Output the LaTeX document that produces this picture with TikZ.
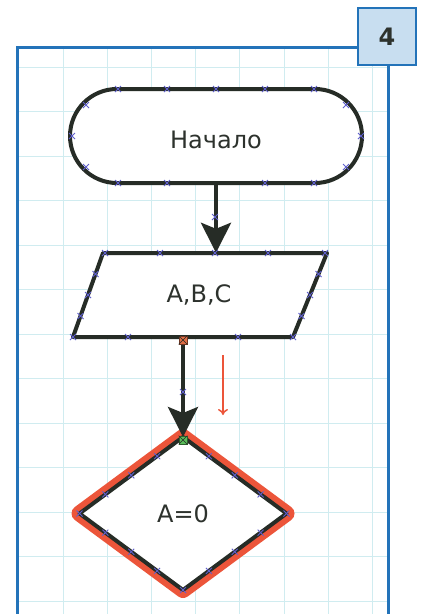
\documentclass[tikz,border=0pt]{standalone}
\usepackage{fontspec}
\setmainfont{DejaVu Sans}
\usetikzlibrary{arrows.meta,shapes.geometric,calc}
\definecolor{gridc}{RGB}{208,236,240}
\definecolor{framec}{RGB}{35,115,185}
\definecolor{boxc}{RGB}{200,222,240}
\definecolor{shapec}{RGB}{38,44,38}
\definecolor{textc}{RGB}{45,50,45}
\definecolor{markc}{RGB}{95,95,205}
\definecolor{redc}{RGB}{236,85,58}
\definecolor{greenc}{RGB}{90,190,90}
\definecolor{orangec}{RGB}{225,110,70}
\begin{document}
\begin{tikzpicture}[x=1pt,y=-1pt,
  gridline/.style={draw=gridc,line width=0.9},
  frameline/.style={draw=framec,line width=3},
  outline/.style={draw=shapec,line width=4,line join=round},
  label/.style={text=textc,font=\fontsize{24}{28}\selectfont},
  conn/.style={draw=shapec,line width=4,-{Stealth[length=30pt,width=30pt,inset=6pt]}},
  hint/.style={draw=redc,line width=1.5,-{To[length=6pt,width=10pt]}},
  pin/.style={minimum size=8,inner sep=0,line width=0.6},
  mk/.pic={\draw[markc,line width=0.8] (-3,-3)--(3,3) (-3,3)--(3,-3);}
]
\useasboundingbox (0,0) rectangle (427,614);
\fill[white] (0,0) rectangle (427,614);
% grid
\begin{scope}
  \clip (17,47) rectangle (388,614);
  \foreach \x in {63,107.2,151.4,195.6,239.8,284,328.2,372.4}
    \draw[gridline] (\x,47) -- (\x,614);
  \foreach \y in {67,111.5,156,200.5,245,289.5,334,378.5,423,467.5,512,556.5,601}
    \draw[gridline] (17,\y) -- (388,\y);
\end{scope}
% frame
\draw[frameline] (17,614) -- (17,47) -- (358,47);
\draw[frameline] (388,65) -- (388,614);
\node[fill=boxc,draw=framec,line width=2,minimum width=58,minimum height=57,
      text=textc,font=\bfseries\fontsize{24}{28}\selectfont] (num) at (387,36.5) {4};
% start terminal
\node[outline,fill=white,rounded corners=47,minimum width=292,minimum height=94,label,
      text height=25,text depth=0]
  (start) at (216,136) {Начало};
% input parallelogram
\draw[outline,fill=white] (103,253) -- (327,253) -- (293,337) -- (73,337) -- cycle;
\node[minimum width=220,minimum height=84,label] (io) at (199,295) {A,B,C};
% decision
\node[diamond,draw=redc,line width=16,line join=round,minimum width=207,minimum height=153,
      aspect=1.353,inner sep=0,outer sep=0] (decred) at (183,513.5) {};
\node[diamond,outline,fill=white,minimum width=207,minimum height=153,
      aspect=1.353,inner sep=0,outer sep=0,label] (dec) at (183,513.5) {A=0};
% connectors
\draw[conn] (start.south) -- (start.south |- io.north);
\coordinate (ioout) at (183,337);
\draw[conn] (ioout) -- (dec.north);
% hint arrow
\coordinate (hinta) at (223,355);
\coordinate (hintb) at (223,415);
\draw[hint] (hinta) -- (hintb);
% connection pins
\node[pin,draw=orangec!50!black,fill=orangec] (pinout) at (183,340) {};
\draw[shapec,line width=0.6] (pinout.north west) -- (pinout.south east) (pinout.north east) -- (pinout.south west);
\node[pin,draw=greenc!50!black,fill=greenc] (pinin) at (183,440) {};
\draw[shapec,line width=0.6] (pinin.north west) -- (pinin.south east) (pinin.north east) -- (pinin.south west);
% markers: terminal
\foreach \x in {118,167,265,314} {\pic at (\x,89) {mk}; \pic at (\x,183) {mk};}
\pic at (216,89) {mk};
\pic at (72,136) {mk}; \pic at (361,136) {mk};
\pic at (86,105) {mk}; \pic at (86,167) {mk}; \pic at (346,105) {mk}; \pic at (346,167) {mk};
% markers: connector 1
\pic at (215,217) {mk};
% markers: parallelogram
\foreach \x in {105,160,215,268,325} \pic at (\x,253) {mk};
\foreach \x in {73,128,238,293} \pic at (\x,337) {mk};
\foreach \t in {0.25,0.5,0.75} {
  \pic at ($(103,253)!\t!(73,337)$) {mk};
  \pic at ($(327,253)!\t!(293,337)$) {mk};
}
% markers: connector 2
\pic at (183,392) {mk};
% markers: diamond
\foreach \t in {0.25,0.5,0.75} {
  \pic at ($(dec.north)!\t!(dec.west)$) {mk};
  \pic at ($(dec.north)!\t!(dec.east)$) {mk};
  \pic at ($(dec.south)!\t!(dec.west)$) {mk};
  \pic at ($(dec.south)!\t!(dec.east)$) {mk};
}
\pic at (dec.west) {mk}; \pic at (dec.east) {mk}; \pic at (dec.south) {mk};
\end{tikzpicture}
\end{document}
